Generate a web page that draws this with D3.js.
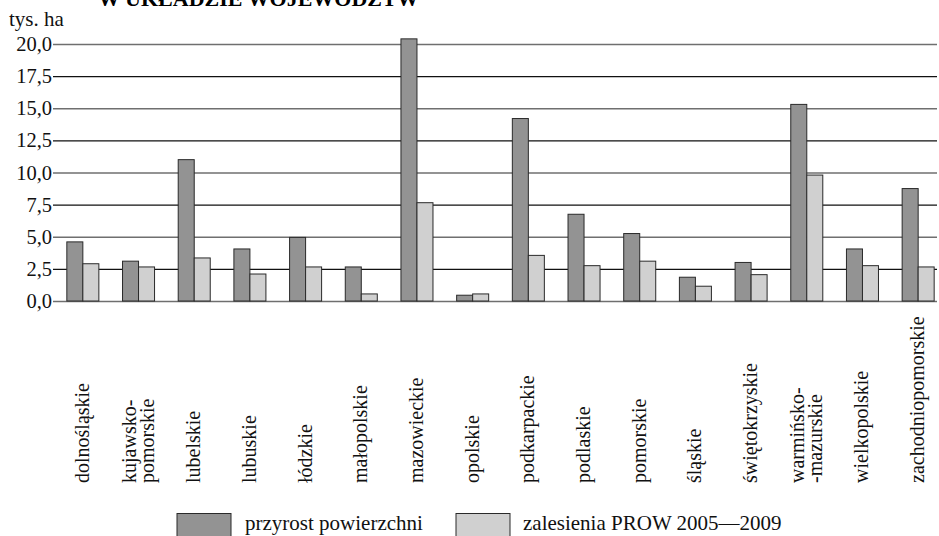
<!DOCTYPE html>
<html>
<head>
<meta charset="utf-8">
<script src="https://cdn.jsdelivr.net/npm/d3@7"></script>
<style>
  body { margin: 0; background: #fff; }
  svg { display: block; font-family: "Liberation Serif", "Times New Roman", serif; }
</style>
</head>
<body>
<svg id="chart" width="939" height="536"></svg>
<script>
const regions = [
    ["dolnośląskie"], ["kujawsko-", "pomorskie"], ["lubelskie"], ["lubuskie"],
    ["łódzkie"], ["małopolskie"], ["mazowieckie"], ["opolskie"],
    ["podkarpackie"], ["podlaskie"], ["pomorskie"], ["śląskie"],
    ["świętokrzyskie"], ["warmińsko-", "-mazurskie"], ["wielkopolskie"], ["zachodniopomorskie"]
];
const growth = [4.6, 3.1, 11.0, 4.05, 4.95, 2.65, 20.4, 0.45, 14.2, 6.75, 5.25, 1.85, 3.0, 15.3, 4.05, 8.75];
const afforestation = [2.9, 2.65, 3.35, 2.1, 2.65, 0.55, 7.65, 0.55, 3.55, 2.75, 3.1, 1.15, 2.05, 9.8, 2.75, 2.65];
const yTicks = [0, 2.5, 5, 7.5, 10, 12.5, 15, 17.5, 20];
const seriesNames = ["przyrost powierzchni", "zalesienia PROW 2005\u20142009"];
const colors = ["#939393", "#d0d0d0"];

const svg = d3.select("#chart");
const left = 53, right = 937;

// scales
const x = d3.scaleBand()
    .domain(d3.range(regions.length))
    .range([55, 946])
    .paddingInner(0.425)
    .paddingOuter(0.2125);
const xSub = d3.scaleBand().domain([0, 1]).range([0, x.bandwidth()]);
const y = d3.scaleLinear().domain([0, 20]).range([301, 44]);

// title (cut off at top, as in the original page)
svg.append("text")
    .attr("x", 98).attr("y", 6)
    .attr("font-size", 22).attr("font-weight", "bold")
    .text("W UKŁADZIE WOJEWÓDZTW");

svg.append("text")
    .attr("x", 9).attr("y", 26)
    .attr("font-size", 21)
    .attr("fill", "#111")
    .text("tys. ha");

// y axis with gridlines
const yAxis = svg.append("g")
    .attr("transform", `translate(${left},0)`)
    .call(d3.axisLeft(y)
        .tickValues(yTicks)
        .tickSize(-(right - left))
        .tickPadding(1)
        .tickFormat(d => d3.format(".1f")(d).replace(".", ",")));
yAxis.select(".domain").remove();
yAxis.selectAll(".tick line")
    .attr("stroke", (d, i) => i % 2 === 0 ? "#6f6f6f" : "#111")
    .attr("stroke-width", (d, i) => i % 2 === 0 ? 1.6 : 1.1);
yAxis.selectAll(".tick text")
    .attr("font-size", 20.5)
    .attr("font-family", "Liberation Serif, serif")
    .attr("fill", "#111");

// bars
const groups = svg.append("g").selectAll("g")
    .data(regions.map((r, i) => [growth[i], afforestation[i]]))
    .join("g")
    .attr("transform", (d, i) => `translate(${x(i)},0)`);

groups.selectAll("rect")
    .data(d => d)
    .join("rect")
    .attr("x", (d, j) => xSub(j))
    .attr("width", xSub.bandwidth())
    .attr("y", d => y(d))
    .attr("height", d => y(0) - y(d))
    .attr("fill", (d, j) => colors[j])
    .attr("stroke", "#2a2a2a")
    .attr("stroke-width", 1);

// category labels, rotated
const labelY = 483;
const lineGap = 18;
regions.forEach((lines, i) => {
    const cx = x(i) + x.bandwidth() / 2;
    lines.forEach((line, k) => {
        const off = (k - (lines.length - 1) / 2) * lineGap;
        svg.append("text")
            .attr("transform", `translate(${cx + off + 6},${labelY}) rotate(-90)`)
            .attr("font-size", 20)
            .attr("fill", "#111")
            .text(line);
    });
});

// legend
const legendItems = [
    { x: 177, tx: 245 },
    { x: 456, tx: 523 }
];
legendItems.forEach((item, i) => {
    svg.append("rect")
        .attr("x", item.x).attr("y", 513.5)
        .attr("width", 54).attr("height", 30)
        .attr("fill", colors[i])
        .attr("stroke", "#2a2a2a");
    svg.append("text")
        .attr("x", item.tx).attr("y", 530)
        .attr("font-size", 21)
        .attr("fill", "#111")
        .text(seriesNames[i]);
});
</script>
</body>
</html>
